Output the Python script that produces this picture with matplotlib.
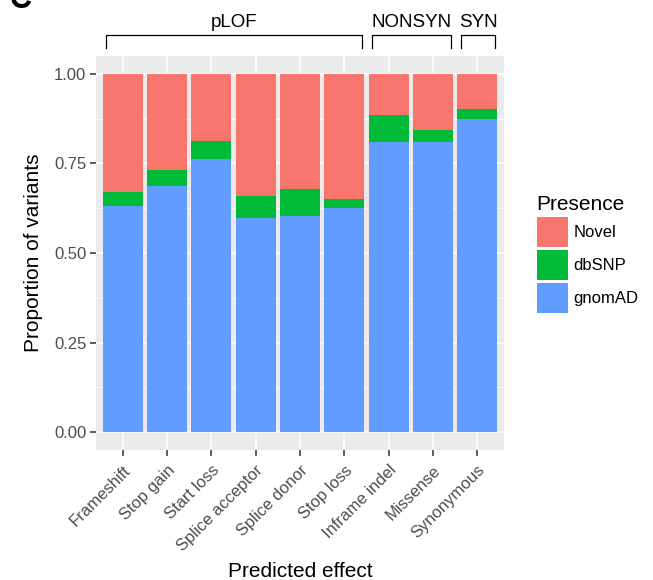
import numpy as np
import matplotlib
matplotlib.use("Agg")
import matplotlib.pyplot as plt
from matplotlib.patches import Patch

# Predicted effect categories and stacked proportions
effects = ["Frameshift", "Stop gain", "Start loss", "Splice acceptor", "Splice donor",
           "Stop loss", "Inframe indel", "Missense", "Synonymous"]
gnomad = [0.630, 0.688, 0.763, 0.597, 0.603, 0.625, 0.809, 0.809, 0.874]
dbsnp = [0.040, 0.045, 0.050, 0.063, 0.077, 0.027, 0.077, 0.034, 0.027]
novel = [1 - g - d for g, d in zip(gnomad, dbsnp)]

groups = ["pLOF", "NONSYN", "SYN"]
group_spans = [(1, 6), (7, 8), (9, 9)]

col_novel = "#F8766D"
col_dbsnp = "#00BA38"
col_gnomad = "#619CFF"

plt.rcParams['font.family'] = ['Liberation Sans', 'DejaVu Sans']

fig = plt.figure(figsize=(6.53, 5.8), dpi=100)
ax = fig.add_axes([96 / 653, 1 - 450 / 580, 408 / 653, 394 / 580])
ax.set_facecolor("#EBEBEB")

x = np.arange(1, len(effects) + 1)
bottom2 = np.array(gnomad) + np.array(dbsnp)
ax.bar(x, gnomad, width=0.9, color=col_gnomad, zorder=3)
ax.bar(x, dbsnp, bottom=gnomad, width=0.9, color=col_dbsnp, zorder=3)
ax.bar(x, novel, bottom=bottom2, width=0.9, color=col_novel, zorder=3)

ax.set_xlim(0.4, len(effects) + 0.6)
ax.set_ylim(-0.05, 1.05)
ax.set_yticks([0, 0.25, 0.5, 0.75, 1.0])
ax.set_yticklabels(["0.00", "0.25", "0.50", "0.75", "1.00"])
ax.set_yticks([0.125, 0.375, 0.625, 0.875], minor=True)
ax.set_xticks(x)
ax.set_xticklabels(effects, rotation=45, ha="right", rotation_mode="anchor")
ax.grid(True, which="major", color="white", linewidth=1.1, zorder=0)
ax.grid(True, which="minor", axis="y", color="white", linewidth=0.55, zorder=0)
ax.tick_params(axis="both", which="major", length=4, width=1.1, color="#333333",
               labelsize=12, labelcolor="#4D4D4D", pad=3)
ax.tick_params(axis="x", which="major", pad=5)
ax.tick_params(axis="y", which="minor", length=0)
for s in ax.spines.values():
    s.set_visible(False)

ax.set_xlabel("Predicted effect", fontsize=15, labelpad=6)
ax.set_ylabel("Proportion of variants", fontsize=15, labelpad=8)

# Group brackets above the panel
for name, (a, b) in zip(groups, group_spans):
    x0, x1 = a - 0.37, b + 0.4
    ax.plot([x0, x0, x1, x1], [1.072, 1.109, 1.109, 1.072], color="black",
            linewidth=0.9, clip_on=False)
    ax.text((x0 + x1) / 2, 1.13, name, ha="center", va="baseline", fontsize=13.5,
            clip_on=False)

# Legend
handles = [Patch(facecolor=col_novel, edgecolor="none"),
           Patch(facecolor=col_dbsnp, edgecolor="none"),
           Patch(facecolor=col_gnomad, edgecolor="none")]
leg = fig.legend(handles, ["Novel", "dbSNP", "gnomAD"], title="Presence",
                 loc="upper left", bbox_to_anchor=(530 / 653, 1 - 188 / 580),
                 frameon=False, fontsize=12, title_fontsize=15,
                 handlelength=1.86, handleheight=2.39, labelspacing=0.18,
                 handletextpad=0.35, borderaxespad=0)
leg._legend_box.align = "left"

fig.text(10 / 653, 1.0, "C", fontsize=22, fontweight="bold", ha="left", va="center")

fig.savefig("out.png", dpi=100)
